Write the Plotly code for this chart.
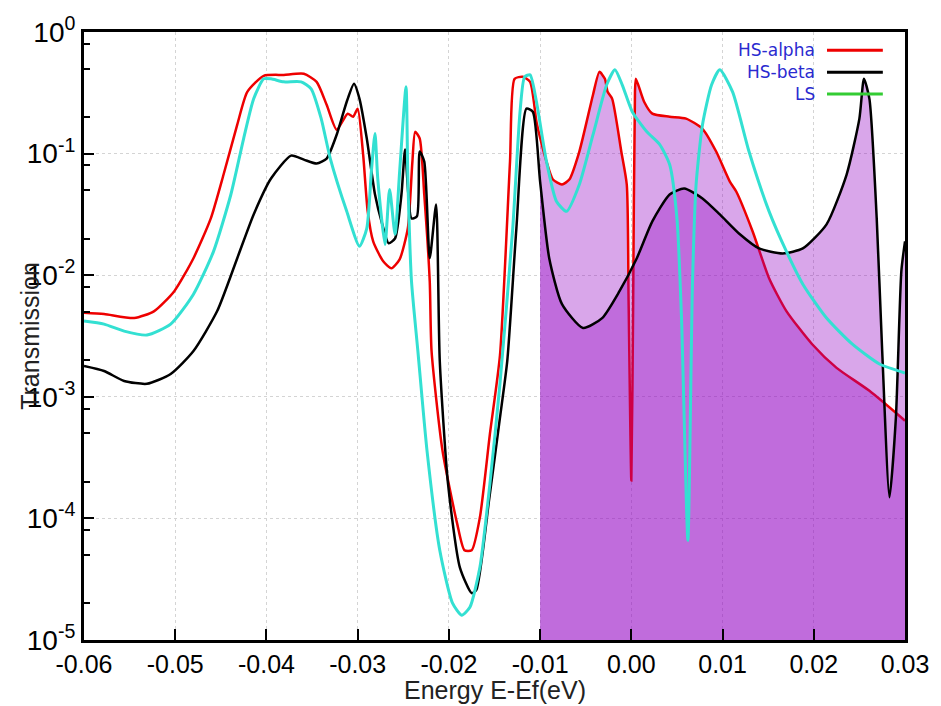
import plotly.graph_objects as go

# ---------------- data ----------------
red_E = [-0.0600, -0.0578, -0.0545, -0.0523, -0.0501, -0.0480, -0.0461, -0.0447, -0.0432, -0.0421,
         -0.0403, -0.0381, -0.0359, -0.0345, -0.0334, -0.0323, -0.0311, -0.0305, -0.0300, -0.0294,
         -0.0289, -0.0283, -0.0272, -0.0263, -0.0254, -0.0245, -0.0240, -0.0237, -0.0232, -0.0227,
         -0.0221, -0.0219, -0.0207, -0.0191, -0.0183, -0.0175, -0.0166, -0.0155, -0.0144, -0.0133,
         -0.0128, -0.0119, -0.0111, -0.0104, -0.0100, -0.0093, -0.0086, -0.0076, -0.0068, -0.0057,
         -0.0042, -0.0035, -0.0029, -0.0026, -0.0021, -0.0011, -0.0005, -0.0003, 0.0000, 0.0002,
         0.0004, 0.0005, 0.0014, 0.0023, 0.0042, 0.0060, 0.0078, 0.0093, 0.0108, 0.0115,
         0.0133, 0.0151, 0.0170, 0.0198, 0.0225, 0.0261, 0.0300]
red_T = [4.91e-3, 4.79e-3, 4.44e-3, 5.07e-3, 7.39e-3, 1.38e-2, 2.93e-2, 6.73e-2, 0.173, 0.322,
         0.436, 0.444, 0.453, 0.389, 0.252, 0.157, 0.213, 0.201, 0.234, 9.81e-2,
         3.35e-2, 1.90e-2, 1.30e-2, 1.14e-2, 1.35e-2, 2.43e-2, 8.60e-2, 0.151, 0.133, 4.61e-2,
         8.93e-3, 2.38e-3, 3.61e-4, 9.10e-5, 5.47e-5, 5.47e-5, 1.02e-4, 4.97e-4, 2.19e-3, 8.60e-2,
         0.412, 0.428, 0.389, 0.183, 0.135, 8.60e-2, 6.12e-2, 5.57e-2, 6.12e-2, 0.104,
         0.305, 0.470, 0.412, 0.322, 0.282, 0.104, 5.57e-2, 6.12e-3, 2.05e-4, 6.12e-3,
         0.322, 0.412, 0.267, 0.213, 0.201, 0.194, 0.160, 0.104, 5.89e-2, 4.88e-2,
         2.29e-2, 9.45e-3, 5.07e-3, 2.72e-3, 1.73e-3, 1.12e-3, 6.36e-4]

black_E = [-0.0600, -0.0578, -0.0556, -0.0531, -0.0505, -0.0480, -0.0454, -0.0432, -0.0414, -0.0395,
           -0.0373, -0.0359, -0.0345, -0.0334, -0.0323, -0.0312, -0.0304, -0.0298, -0.0290, -0.0281,
           -0.0273, -0.0266, -0.0259, -0.0252, -0.0248, -0.0241, -0.0235, -0.0232, -0.0227, -0.0221,
           -0.0214, -0.0210, -0.0201, -0.0188, -0.0175, -0.0170, -0.0156, -0.0144, -0.0136, -0.0126,
           -0.0115, -0.0108, -0.0100, -0.0090, -0.0076, -0.0053, -0.0032, -0.0013, 0.0006, 0.0023,
           0.0042, 0.0058, 0.0078, 0.0097, 0.0119, 0.0140, 0.0166, 0.0188, 0.0214, 0.0236,
           0.0250, 0.0255, 0.0261, 0.0269, 0.0275, 0.0283, 0.0290, 0.0296, 0.0300]
black_T = [1.79e-3, 1.63e-3, 1.35e-3, 1.28e-3, 1.54e-3, 2.38e-3, 5.07e-3, 1.38e-2, 3.16e-2, 6.24e-2,
           9.63e-2, 8.93e-2, 8.28e-2, 9.10e-2, 0.143, 0.267, 0.375, 0.282, 0.133, 4.61e-2,
           2.62e-2, 1.83e-2, 2.01e-2, 4.61e-2, 0.108, 2.93e-2, 3.05e-2, 0.104, 8.60e-2, 1.38e-2,
           3.82e-2, 1.97e-3, 1.94e-4, 3.96e-5, 2.43e-5, 2.57e-5, 1.41e-4, 6.73e-4, 1.97e-3, 2.43e-2,
           0.234, 0.221, 5.89e-2, 1.38e-2, 5.78e-3, 3.68e-3, 4.44e-3, 7.39e-3, 1.38e-2, 2.77e-2,
           4.61e-2, 5.16e-2, 4.28e-2, 3.16e-2, 2.17e-2, 1.66e-2, 1.51e-2, 1.66e-2, 2.62e-2, 6.73e-2,
           0.194, 0.412, 0.282, 2.93e-2, 2.38e-3, 1.49e-4, 6.73e-4, 1.08e-2, 1.90e-2]

cyan_E = [-0.0600, -0.0578, -0.0556, -0.0531, -0.0505, -0.0480, -0.0458, -0.0439, -0.0425, -0.0414,
          -0.0403, -0.0395, -0.0381, -0.0362, -0.0351, -0.0340, -0.0330, -0.0312, -0.0298, -0.0290,
          -0.0285, -0.0281, -0.0278, -0.0270, -0.0265, -0.0259, -0.0254, -0.0247, -0.0245, -0.0241,
          -0.0234, -0.0224, -0.0210, -0.0196, -0.0186, -0.0177, -0.0166, -0.0155, -0.0144, -0.0130,
          -0.0122, -0.0117, -0.0111, -0.0104, -0.0093, -0.0082, -0.0071, -0.0057, -0.0042, -0.0027,
          -0.0018, -0.0010, 0.0001, 0.0017, 0.0031, 0.0042, 0.0050, 0.0055, 0.0062, 0.0067,
          0.0071, 0.0078, 0.0088, 0.0097, 0.0111, 0.0129, 0.0151, 0.0170, 0.0188, 0.0214,
          0.0242, 0.0272, 0.0300]
cyan_T = [4.20e-3, 3.96e-3, 3.47e-3, 3.22e-3, 3.96e-3, 6.98e-3, 1.57e-2, 4.61e-2, 0.133, 0.282,
          0.412, 0.412, 0.389, 0.389, 0.341, 0.194, 9.10e-2, 3.35e-2, 1.73e-2, 2.43e-2,
          7.12e-2, 0.146, 6.24e-2, 1.79e-2, 5.07e-2, 2.17e-2, 7.12e-2, 0.354, 6.24e-2, 8.93e-3,
          2.38e-3, 3.61e-4, 5.47e-5, 2.01e-5, 1.60e-5, 1.86e-5, 3.96e-5, 1.94e-4, 1.28e-3, 2.43e-2,
          0.221, 0.428, 0.444, 0.267, 8.60e-2, 4.04e-2, 3.35e-2, 5.57e-2, 0.143, 0.368,
          0.489, 0.368, 0.221, 0.151, 0.119, 8.13e-2, 2.93e-2, 4.44e-3, 6.60e-5, 8.44e-3,
          5.57e-2, 0.173, 0.368, 0.489, 0.322, 0.104, 3.35e-2, 1.57e-2, 8.44e-3, 4.44e-3,
          2.72e-3, 1.86e-3, 1.57e-3]

series_names = ["HS-alpha", "HS-beta", "LS"]
fill_start = -0.01
x_ticks = [-0.06, -0.05, -0.04, -0.03, -0.02, -0.01, 0.00, 0.01, 0.02, 0.03]
x_ticktext = ["-0.06", "-0.05", "-0.04", "-0.03", "-0.02", "-0.01", "0.00", "0.01", "0.02", "0.03"]
y_ticks = [1e-5, 1e-4, 1e-3, 1e-2, 1e-1, 1]
y_ticktext = ["10<sup>-5</sup>", "10<sup>-4</sup>", "10<sup>-3</sup>", "10<sup>-2</sup>",
              "10<sup>-1</sup>", "10<sup>0</sup>"]
y_minor = [m * d for d in [1e-5, 1e-4, 1e-3, 1e-2, 1e-1] for m in (2, 5, 8)]

# ---------------- styles ----------------
RED = "#ee0000"
BLACK = "#000000"
CYAN = "#33e0d2"
FILL = "rgba(146,0,195,0.35)"
LEG_TEXT = "#2a2ad0"
LEG_COLORS = [RED, BLACK, "#33cc33"]
SMOOTH = 0.6

fig = go.Figure()

def sub(E, T):
    pts = [(e, t) for e, t in zip(E, T) if e >= fill_start - 1e-9]
    return [p[0] for p in pts], [p[1] for p in pts]

xmax = x_ticks[-1]
base_x = [fill_start, xmax]
base_y = [y_ticks[0], y_ticks[0]]

# red fill
fig.add_trace(go.Scatter(x=base_x, y=base_y, mode="lines", line=dict(width=0),
                         showlegend=False, hoverinfo="skip"))
rx, ry = sub(red_E, red_T)
fig.add_trace(go.Scatter(x=rx, y=ry, mode="lines", fill="tonexty", fillcolor=FILL,
                         line=dict(width=0, shape="spline", smoothing=SMOOTH),
                         showlegend=False, hoverinfo="skip"))
# red line
fig.add_trace(go.Scatter(x=red_E, y=red_T, mode="lines", name=series_names[0],
                         line=dict(color=RED, width=2.5, shape="spline", smoothing=SMOOTH),
                         showlegend=False))
# black fill
fig.add_trace(go.Scatter(x=base_x, y=base_y, mode="lines", line=dict(width=0),
                         showlegend=False, hoverinfo="skip"))
bx, by = sub(black_E, black_T)
fig.add_trace(go.Scatter(x=bx, y=by, mode="lines", fill="tonexty", fillcolor=FILL,
                         line=dict(width=0, shape="spline", smoothing=SMOOTH),
                         showlegend=False, hoverinfo="skip"))
# black line
fig.add_trace(go.Scatter(x=black_E, y=black_T, mode="lines", name=series_names[1],
                         line=dict(color=BLACK, width=2.5, shape="spline", smoothing=SMOOTH),
                         showlegend=False))
# cyan line
fig.add_trace(go.Scatter(x=cyan_E, y=cyan_T, mode="lines", name=series_names[2],
                         line=dict(color=CYAN, width=3, shape="spline", smoothing=SMOOTH),
                         showlegend=False))

# custom legend (text right-aligned, sample line to the right)
leg_y = [0.970, 0.934, 0.898]
for name, col, yy in zip(series_names, LEG_COLORS, leg_y):
    fig.add_annotation(xref="paper", yref="paper", x=0.893, y=yy, text=name, showarrow=False,
                       xanchor="right", yanchor="middle",
                       font=dict(family="DejaVu Sans", size=17, color=LEG_TEXT))
    fig.add_shape(type="line", xref="paper", yref="paper", x0=0.905, x1=0.973, y0=yy, y1=yy,
                  line=dict(color=col, width=3))

# axis titles
fig.add_annotation(xref="paper", yref="paper", x=0.5, y=-0.082, text="Energy E-Ef(eV)",
                   showarrow=False, xanchor="center", yanchor="middle",
                   font=dict(family="Liberation Sans", size=25, color="#222222"))
fig.add_annotation(xref="paper", yref="paper", x=-0.066, y=0.5, text="Transmission",
                   showarrow=False, textangle=-90, xanchor="center", yanchor="middle",
                   font=dict(family="Liberation Sans", size=25, color="#222222"))

fig.update_layout(
    width=941, height=706,
    margin=dict(l=84, r=35, t=30, b=66),
    plot_bgcolor="white", paper_bgcolor="white",
    showlegend=False,
)
fig.update_xaxes(
    range=[x_ticks[0], x_ticks[-1]], tickvals=x_ticks, ticktext=x_ticktext,
    ticks="inside", ticklen=11, tickwidth=2, tickcolor="black",
    showline=True, linewidth=3, linecolor="black", mirror=True,
    showgrid=True, gridcolor="#d4d4d4", griddash="dot", gridwidth=1,
    zeroline=False,
    tickfont=dict(family="Liberation Sans", size=25, color="black"),
)
fig.update_yaxes(
    type="log", range=[-5, 0], tickvals=y_ticks, ticktext=y_ticktext,
    ticks="inside", ticklen=10, tickwidth=2, tickcolor="black",
    showline=True, linewidth=3, linecolor="black", mirror=True,
    showgrid=True, gridcolor="#d4d4d4", griddash="dot", gridwidth=1,
    zeroline=False,
    tickfont=dict(family="Liberation Sans", size=28, color="black"),
    minor=dict(tickvals=y_minor, ticks="inside", ticklen=6, tickwidth=2, tickcolor="black",
               showgrid=False),
)

fig.write_html("out.html")
